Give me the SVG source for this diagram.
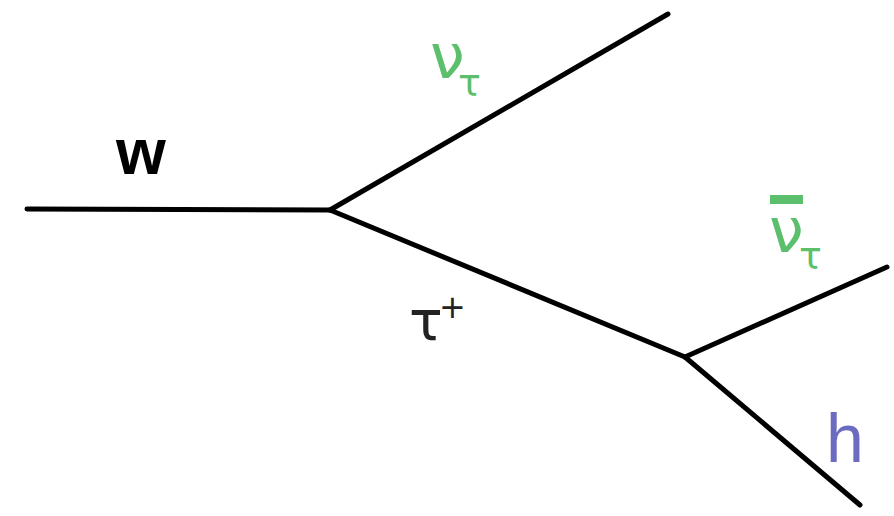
<svg xmlns="http://www.w3.org/2000/svg" width="894" height="516" viewBox="0 0 894 516">
<style>
.ln{stroke:#000;stroke-width:5;fill:none;stroke-linecap:round}
.g{fill:#5cbf6c;font-family:"DejaVu Sans",sans-serif}
.k{font-family:"DejaVu Sans",sans-serif}
</style>
<rect width="894" height="516" fill="#fff"/>
<g id="connectors">
<line class="ln" x1="27" y1="209" x2="330" y2="210"/>
<line class="ln" x1="330" y1="210" x2="668" y2="14"/>
<line class="ln" x1="330" y1="210" x2="685" y2="357"/>
<line class="ln" x1="685" y1="357" x2="887" y2="267"/>
<line class="ln" x1="685" y1="357" x2="860" y2="505"/>
</g>
<g id="label-w"><text x="116" y="174" font-family="Liberation Sans, sans-serif" font-weight="bold" font-size="64" fill="#000">w</text></g>
<g id="label-nu-tau"><text class="g" x="430" y="78" font-size="62">ν<tspan x="458" y="96" font-size="38">τ</tspan></text></g>
<g id="label-nubar-tau"><rect x="770" y="195" width="33" height="9" fill="#5cbf6c"/><text class="g" x="769" y="252" font-size="62">ν<tspan x="799" y="269" font-size="38">τ</tspan></text></g>
<g id="label-tau-plus"><text class="k" x="409" y="340" font-size="56" fill="#222">τ<tspan x="439" y="318" font-size="32">+</tspan></text></g>
<g id="label-h"><text x="826" y="462" font-family="Liberation Sans, sans-serif" font-size="68" fill="#6b6bc0">h</text></g>
</svg>
